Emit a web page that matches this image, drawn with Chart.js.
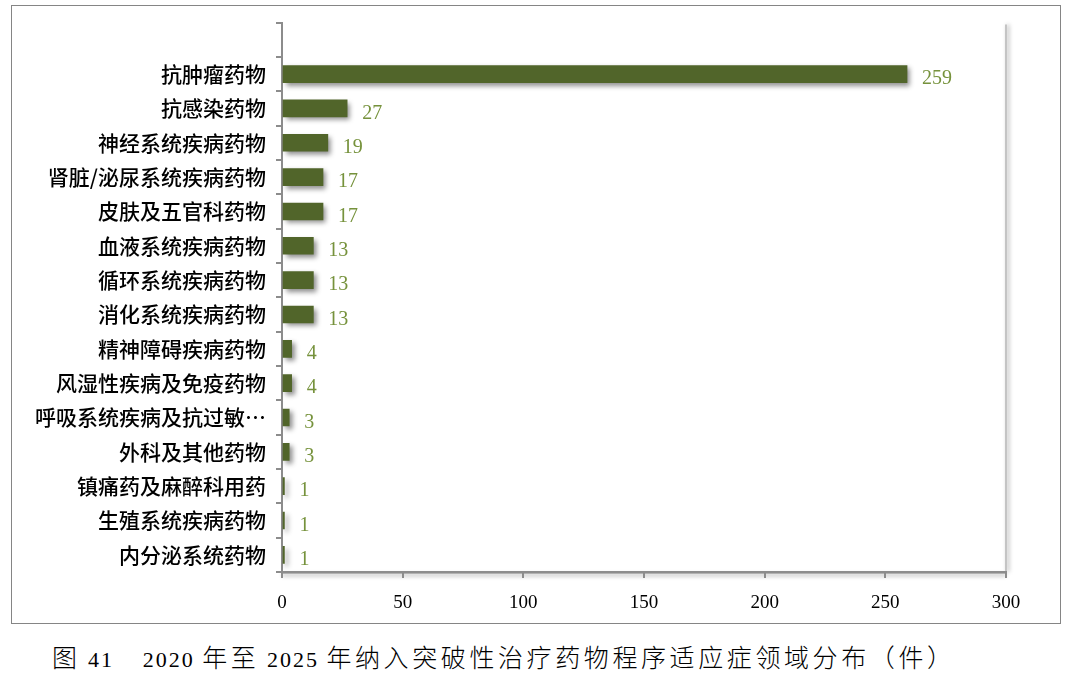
<!DOCTYPE html>
<html>
<head>
<meta charset="utf-8">
<script src="https://cdn.jsdelivr.net/npm/chart.js@4.4.1/dist/chart.umd.min.js"></script>
<style>
  body { margin:0; background:#fff; width:1069px; height:683px; position:relative; overflow:hidden; }
  #frame { position:absolute; left:11px; top:5px; width:1048px; height:617px; border:1.5px solid #858585; }
  #wrap { position:absolute; left:0; top:0; width:1069px; height:630px; }
  #caption { position:absolute; left:52px; top:638px; font-family:"Liberation Serif",serif; font-size:22px; letter-spacing:2px; color:#000; white-space:nowrap; }
  #caption .zh { font-family:"Noto Sans CJK SC",sans-serif; font-size:25px; letter-spacing:3.6px; font-weight:300; }
</style>
</head>
<body>
<div id="frame"></div>
<div id="wrap"><canvas id="myChart" width="1069" height="630"></canvas></div>
<div id="caption"><span class="zh">图</span> 41<span class="zh">　</span>2020 <span class="zh">年至</span> 2025 <span class="zh">年纳入突破性治疗药物程序适应症领域分布（件）</span></div>
<script>
// first slot is an empty band at the top of the plot
const categories = ['', '抗肿瘤药物', '抗感染药物', '神经系统疾病药物', '肾脏/泌尿系统疾病药物', '皮肤及五官科药物',
    '血液系统疾病药物', '循环系统疾病药物', '消化系统疾病药物', '精神障碍疾病药物', '风湿性疾病及免疫药物',
    '呼吸系统疾病及抗过敏…', '外科及其他药物', '镇痛药及麻醉科用药', '生殖系统疾病药物', '内分泌系统药物'];
const counts = [null, 259, 27, 19, 17, 17, 13, 13, 13, 4, 4, 3, 3, 1, 1, 1];
const xTicks = [0, 50, 100, 150, 200, 250, 300];

const barShadow = {
    id: 'barShadow',
    beforeDraw(chart) {
        const {ctx, chartArea} = chart;
        ctx.save();
        ctx.shadowColor = 'rgba(0,0,0,0.35)';
        ctx.shadowBlur = 4;
        ctx.shadowOffsetX = 2;
        ctx.strokeStyle = '#c4c4c4';
        ctx.lineWidth = 2;
        ctx.beginPath();
        ctx.moveTo(chartArea.right, chartArea.top + 2);
        ctx.lineTo(chartArea.right, chartArea.bottom);
        ctx.stroke();
        ctx.shadowOffsetX = 0;
        ctx.shadowOffsetY = 2;
        ctx.strokeStyle = '#b0b0b0';
        ctx.beginPath();
        ctx.moveTo(chartArea.left, chartArea.bottom + 1);
        ctx.lineTo(chartArea.right, chartArea.bottom + 1);
        ctx.stroke();
        ctx.restore();
    },
    beforeDatasetsDraw(chart) {
        const ctx = chart.ctx;
        ctx.save();
        ctx.shadowColor = 'rgba(0,0,0,0.45)';
        ctx.shadowBlur = 5;
        ctx.shadowOffsetX = 3;
        ctx.shadowOffsetY = 3;
    },
    afterDatasetsDraw(chart) {
        const ctx = chart.ctx;
        ctx.restore();
        ctx.save();
        ctx.fillStyle = '#76923c';
        ctx.font = '20px "Liberation Serif", serif';
        ctx.textBaseline = 'middle';
        chart.getDatasetMeta(0).data.forEach((bar, i) => {
            if (counts[i] == null) return;
            ctx.fillText(String(counts[i]), bar.x + 15, bar.y + 5);
        });
        ctx.restore();
    }
};

const renderChart = () => {
    const ctx = document.getElementById('myChart');
    new Chart(ctx, {
        type: 'bar',
        data: {
            labels: categories,
            datasets: [{
                data: counts,
                backgroundColor: '#51652a',
                borderWidth: 0,
                barThickness: 17
            }]
        },
        plugins: [barShadow],
        options: {
            indexAxis: 'y',
            responsive: false,
            animation: false,
            layout: { padding: { top: 20, right: 63, left: 0, bottom: 0 } },
            plugins: { legend: { display: false }, tooltip: { enabled: false } },
            scales: {
                x: {
                    min: 0, max: 300,
                    afterBuildTicks: (scale) => { scale.ticks = xTicks.map(v => ({ value: v })); },
                    afterFit: (scale) => { scale.height = 58; },
                    border: { color: '#8c8c8c', width: 2 },
                    grid: { drawOnChartArea: false, tickLength: 6, color: '#8c8c8c', lineWidth: 2 },
                    ticks: { color: '#000', padding: 14, font: { family: '"Liberation Serif", serif', size: 19 } }
                },
                y: {
                    afterFit: (scale) => { scale.width = 282; },
                    border: { color: '#8c8c8c', width: 2 },
                    grid: { drawOnChartArea: false, tickLength: 6, color: '#8c8c8c', lineWidth: 2 },
                    ticks: { color: '#000', padding: 10, autoSkip: false, font: { family: '"Noto Sans CJK SC", sans-serif', size: 21, weight: '500' } }
                }
            }
        }
    });
};

renderChart();
</script>
</body>
</html>
